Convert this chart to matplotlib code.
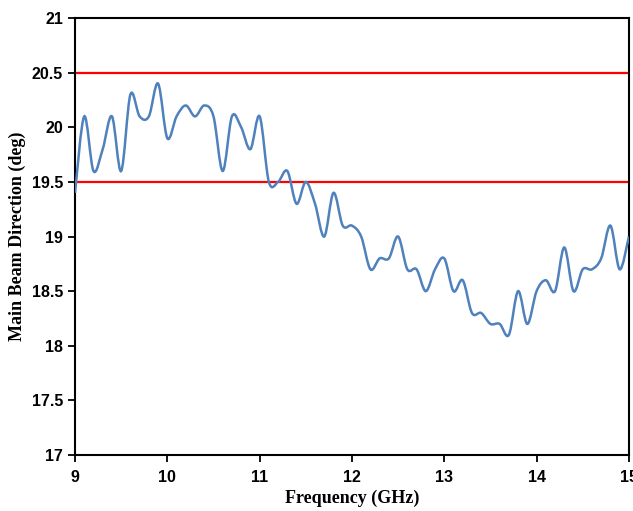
import numpy as np
import matplotlib.pyplot as plt
from matplotlib.path import Path
from matplotlib.patches import PathPatch

freq = [9.0, 9.1, 9.2, 9.3, 9.4, 9.5, 9.6, 9.7, 9.8, 9.9,
        10.0, 10.1, 10.2, 10.3, 10.4, 10.5, 10.6, 10.7, 10.8, 10.9,
        11.0, 11.1, 11.2, 11.3, 11.4, 11.5, 11.6, 11.7, 11.8, 11.9,
        12.0, 12.1, 12.2, 12.3, 12.4, 12.5, 12.6, 12.7, 12.8, 12.9,
        13.0, 13.1, 13.2, 13.3, 13.4, 13.5, 13.6, 13.7, 13.8, 13.9,
        14.0, 14.1, 14.2, 14.3, 14.4, 14.5, 14.6, 14.7, 14.8, 14.9, 15.0]
beam = [19.4, 20.1, 19.6, 19.8, 20.1, 19.6, 20.3, 20.1, 20.1, 20.4,
        19.9, 20.1, 20.2, 20.1, 20.2, 20.1, 19.6, 20.1, 20.0, 19.8,
        20.1, 19.5, 19.5, 19.6, 19.3, 19.5, 19.3, 19.0, 19.4, 19.1,
        19.1, 19.0, 18.7, 18.8, 18.8, 19.0, 18.7, 18.7, 18.5, 18.7,
        18.8, 18.5, 18.6, 18.3, 18.3, 18.2, 18.2, 18.1, 18.5, 18.2,
        18.5, 18.6, 18.5, 18.9, 18.5, 18.7, 18.7, 18.8, 19.1, 18.7, 19.0]
limits = [19.5, 20.5]

fig = plt.figure(figsize=(6.33, 5.11), dpi=100)
ax = fig.add_axes([0.1185, 0.1096, 0.875, 0.855])

# smoothed line like excel: bezier through the points
x = np.array(freq)
y = np.array(beam)
verts = [(x[0], y[0])]
codes = [Path.MOVETO]
t = 1.0 / 6
for i in range(len(x) - 1):
    x0, y0 = (x[i - 1], y[i - 1]) if i > 0 else (x[i], y[i])
    x3, y3 = (x[i + 2], y[i + 2]) if i + 2 < len(x) else (x[i + 1], y[i + 1])
    c1 = (x[i] + (x[i + 1] - x0) * t, y[i] + (y[i + 1] - y0) * t)
    c2 = (x[i + 1] - (x3 - x[i]) * t, y[i + 1] - (y3 - y[i]) * t)
    verts += [c1, c2, (x[i + 1], y[i + 1])]
    codes += [Path.CURVE4] * 3
ax.add_patch(PathPatch(Path(verts, codes), fill=False, edgecolor='#4f81bd',
                       lw=1.8, zorder=3))

for v in limits:
    ax.axhline(v, color='#ff0000', lw=1.6, zorder=2)

ax.set_xlim(9, 15)
ax.set_ylim(17, 21)
ax.set_xticks(range(9, 16))
ax.set_yticks(np.arange(17, 21.01, 0.5))
ax.set_yticklabels(['17', '17.5', '18', '18.5', '19', '19.5', '20', '20.5', '21'])
for s in ax.spines.values():
    s.set_linewidth(1.5)
ax.tick_params(direction='out', length=5, width=1.3, labelsize=11.5)
ax.tick_params(axis='x', pad=6)
for lab in ax.get_xticklabels() + ax.get_yticklabels():
    lab.set_fontfamily('Liberation Sans')
    lab.set_fontweight('bold')
ax.set_xlabel('Frequency (GHz)', family='Liberation Serif', weight='bold',
              fontsize=13, labelpad=3)
ax.set_ylabel('Main Beam Direction (deg)', family='Liberation Serif',
              weight='bold', fontsize=13, labelpad=4)

fig.savefig('out.png', dpi=100)
